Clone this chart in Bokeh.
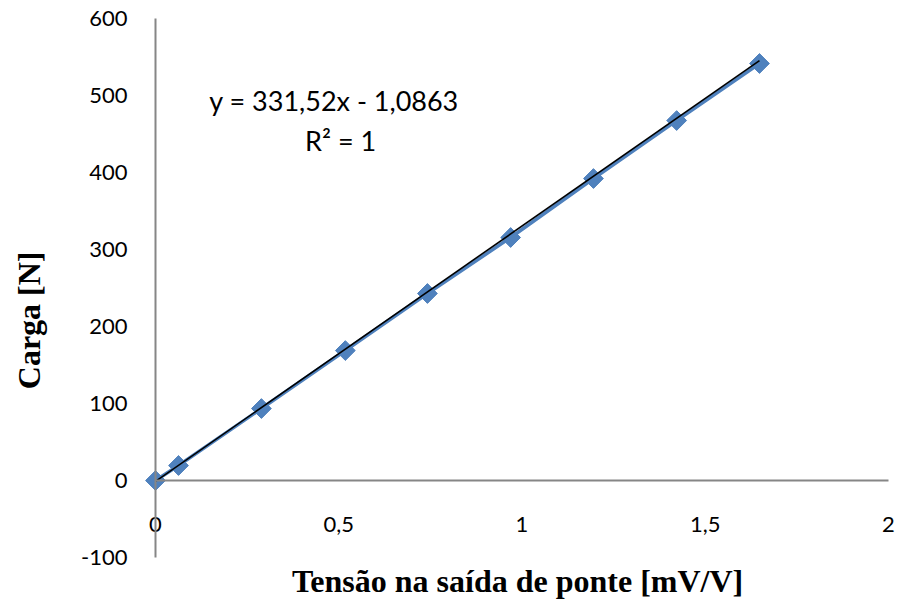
import math
from bokeh.plotting import figure
from bokeh.models import LinearAxis, FixedTicker, Label, Range1d, CustomJSTickFormatter
from bokeh.embed import file_html
from bokeh.resources import INLINE

# Data
tensao = [0, 0.0628, 0.289, 0.518, 0.742, 0.969, 1.195, 1.422, 1.648]
carga = [0, 19.5, 93.5, 168.8, 242.9, 315.6, 392.2, 467.5, 541.6]
trend_slope = 331.52
trend_intercept = -1.0863
x_ticks = [0, 0.5, 1, 1.5, 2]
y_ticks = [-100, 0, 100, 200, 300, 400, 500, 600]
eq_text = "y = 331,52x - 1,0863"
r2_text = "R² = 1"
x_title = "Tensão na saída de ponte [mV/V]"
y_title = "Carga [N]"

AXIS_GRAY = "#868686"
BLUE = "#4F81BD"
TICK_FONT = "Lato"
TITLE_FONT = "Liberation Serif"

# Frame fills the whole canvas; axes are drawn at x=0 / y=0 with bounds
p = figure(width=901, height=603, output_backend="svg", toolbar_location=None,
           x_range=Range1d(-0.4229, 2.0355), y_range=Range1d(-159.7, 623.4),
           x_axis_location=None, y_axis_location=None,
           min_border=0, min_border_left=0, min_border_right=0,
           min_border_top=0, min_border_bottom=0)
p.outline_line_color = None
p.xgrid.visible = False
p.ygrid.visible = False
p.background_fill_color = "white"
p.border_fill_color = "white"

# Y axis at x = 0
yax = LinearAxis(ticker=FixedTicker(ticks=y_ticks), fixed_location=0, bounds=(-100, 600))
yax.formatter = CustomJSTickFormatter(code="return tick.toString();")
yax.axis_line_color = AXIS_GRAY
yax.axis_line_width = 2
yax.major_tick_line_color = None
yax.minor_tick_line_color = None
yax.major_label_text_font = TICK_FONT
yax.major_label_text_font_size = "22px"
yax.major_label_text_color = "black"
yax.major_label_standoff = 22
p.add_layout(yax, "left")

# X axis crossing at y = 0
xax = LinearAxis(ticker=FixedTicker(ticks=x_ticks), fixed_location=0, bounds=(0, 2))
xax.formatter = CustomJSTickFormatter(code="return tick.toString().replace('.', ',');")
xax.axis_line_color = AXIS_GRAY
xax.axis_line_width = 2
xax.major_tick_line_color = None
xax.minor_tick_line_color = None
xax.major_label_text_font = TICK_FONT
xax.major_label_text_font_size = "22px"
xax.major_label_text_color = "black"
xax.major_label_standoff = 30
p.add_layout(xax, "below")

# Series
p.line(tensao, carga, line_color=BLUE, line_width=3.5)
p.scatter(tensao, carga, marker="square", angle=math.pi / 4, size=14,
          fill_color=BLUE, line_color=BLUE)

# Trendline
tx = [tensao[0], tensao[-1]]
ty = [trend_slope * v + trend_intercept for v in tx]
p.line(tx, ty, line_color="black", line_width=1.6)

# Equation labels
p.add_layout(Label(x=0.147, y=494, text=eq_text, text_font=TICK_FONT, text_font_size="27px",
                   text_color="black", text_baseline="middle", text_align="left"))
p.add_layout(Label(x=0.505, y=441, text=r2_text, text_font=TICK_FONT, text_font_size="27px",
                   text_color="black", text_baseline="middle", text_align="center"))

# Axis titles
p.add_layout(Label(x=-0.3465, y=208, text=y_title, text_font=TITLE_FONT, text_font_style="bold",
                   text_font_size="32px", text_color="black", angle=math.pi / 2,
                   text_align="center", text_baseline="middle"))
p.add_layout(Label(x=0.988, y=-130, text=x_title, text_font=TITLE_FONT, text_font_style="bold",
                   text_font_size="32px", text_color="black",
                   text_align="center", text_baseline="middle"))

open("out.html", "w").write(file_html(p, INLINE))
